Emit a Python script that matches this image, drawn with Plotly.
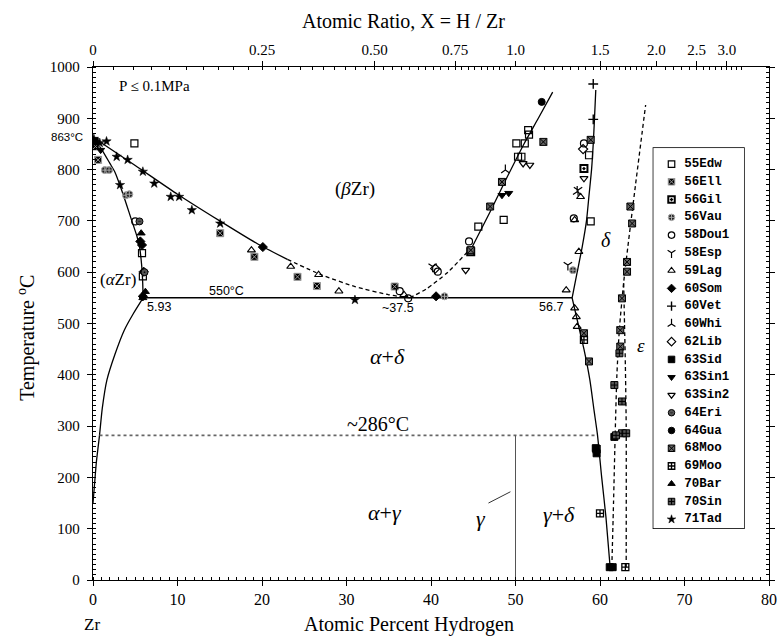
import plotly.graph_objects as go

# ---------------- phase boundary curves (at.% H, deg C) ----------------
alpha_hi_x = [0, 1.0, 2.0, 2.6, 3.5, 4.5, 5.2, 5.5, 5.75, 5.88, 5.93]
alpha_hi_T = [863, 840, 812, 795, 755, 705, 670, 650, 615, 580, 550]

alpha_lo_x = [5.93, 4.8, 3.7, 2.6, 1.65, 1.1, 0.77, 0.4, 0.15, 0.0]
alpha_lo_T = [550, 520, 487, 440, 390, 335, 282, 230, 180, 150]

beta_left_x = [0, 5, 10, 15, 19.5, 23]
beta_left_T = [863, 808, 752, 700, 655, 625]
beta_left_dash_x = [23, 27, 31, 35, 37.5]
beta_left_dash_T = [625, 595, 572, 556, 550]

beta_right_dash_x = [37.5, 39.5, 42, 44.9]
beta_right_dash_T = [550, 568, 600, 650]
beta_right_x = [44.9, 47, 49, 51, 52.7, 54.4]
beta_right_T = [650, 718, 785, 850, 900, 951]

delta_hi_x = [56.7, 57.3, 57.9, 58.4, 58.7, 59.0, 59.2, 59.35, 59.5]
delta_hi_T = [550, 600, 650, 700, 750, 800, 850, 900, 955]

delta_lo_x = [56.7, 57.4, 58.1, 58.8, 59.3, 59.7, 60.2, 60.7, 61.2]
delta_lo_T = [550, 500, 450, 390, 330, 283, 200, 123, 25]

eps_a_x = [61.4, 61.6, 61.8, 62.0, 62.3, 62.8, 63.3, 64.2, 65.4]
eps_a_T = [25, 150, 286, 400, 490, 580, 650, 770, 926]
eps_b_x = [63.1, 63.1, 63.0, 62.9, 62.8]
eps_b_T = [25, 300, 420, 500, 580]

eutectoid_x = [5.93, 56.7]
eutectoid_T = [550, 550]
gamma_iso_x = [0.77, 59.7]
gamma_iso_T = [282, 282]
gamma_line_x = [50, 50]
gamma_line_T = [0, 282]
gamma_leader_x = [46.8, 49.4]
gamma_leader_T = [150, 172]

# ---------------- experimental data ----------------
edw55_x = [4.9, 5.8, 5.9, 45.6, 48.6, 50.3, 50.1, 51.5, 51.6, 51.1, 50.7, 58.7, 58.9]
edw55_T = [851, 637, 592, 689, 702, 825, 851, 877, 868, 851, 825, 828, 699]
ell56_x = [0.6, 15.05, 19.1, 24.2, 26.5, 35.7, 0.3]
ell56_T = [819, 676, 630, 591, 573, 572, 845]
gil56_x = [58.1, 44.7]
gil56_T = [802, 640]
vau56_x = [1.4, 1.9, 3.9, 4.3, 41.6, 56.8]
vau56_T = [799, 799, 750, 752, 553, 604]
dou58_x = [5.0, 36.3, 37.3, 40.8, 44.5, 58.1, 56.9]
dou58_T = [699, 563, 549, 601, 660, 851, 705]
esp58_x = [40.2, 56.2, 57.4]
esp58_T = [611, 614, 760]
lag59_x = [18.75, 23.4, 26.7, 29.1, 57.7, 57.5, 56.0, 57.0, 57.2, 57.3, 57.0, 36.8]
lag59_T = [643, 611, 595, 563, 747, 640, 565, 530, 513, 494, 702, 556]
som60_x = [5.8, 5.6, 5.9, 20.1, 40.6, 6.0]
som60_T = [653, 660, 553, 649, 553, 601]
vet60_x = [59.2, 59.2]
vet60_T = [967, 898]
whi60_x = [48.8, 57.3]
whi60_T = [799, 757]
lib62_x = [58.0, 40.5]
lib62_T = [840, 607]
sid63_x = [0.2, 59.5, 61.7, 61.15, 61.5, 59.6]
sid63_T = [855, 257, 279, 25, 25, 247]
sin1_63_x = [49.2, 48.4, 0.9]
sin1_63_T = [754, 750, 838]
sin2_63_x = [44.1, 51.7, 50.9, 58.1]
sin2_63_T = [604, 809, 812, 783]
eri64_x = [6.1, 5.5]
eri64_T = [600, 699]
gua64_x = [53.1]
gua64_T = [932]
moo68_x = [47.0, 48.4, 53.3, 58.9, 63.6, 63.8, 63.2, 63.2, 62.6, 62.4, 62.4, 58.1, 58.7, 44.7]
moo68_T = [728, 776, 854, 858, 728, 695, 620, 601, 549, 487, 455, 481, 426, 643]
moo69_x = [60.0, 63.0, 59.6, 58.1]
moo69_T = [130, 25, 255, 468]
bar70_x = [6.2, 5.9, 5.7]
bar70_T = [562, 550, 676]
sin70_x = [61.7, 62.6, 62.6, 62.3, 63.1, 61.9]
sin70_T = [380, 348, 286, 442, 286, 282]
tad71_x = [0.1, 0.8, 1.6, 2.8, 3.2, 4.1, 5.9, 7.25, 9.2, 10.2, 11.7, 15.05, 31.0]
tad71_T = [860, 852, 855, 825, 770, 819, 796, 773, 747, 747, 721, 695, 546]

series_names = ["55Edw", "56Ell", "56Gil", "56Vau", "58Dou1", "58Esp", "59Lag",
                "60Som", "60Vet", "60Whi", "62Lib", "63Sid", "63Sin1", "63Sin2",
                "64Eri", "64Gua", "68Moo", "69Moo", "70Bar", "70Sin", "71Tad"]
series_x = [edw55_x, ell56_x, gil56_x, vau56_x, dou58_x, esp58_x, lag59_x, som60_x,
            vet60_x, whi60_x, lib62_x, sid63_x, sin1_63_x, sin2_63_x, eri64_x,
            gua64_x, moo68_x, moo69_x, bar70_x, sin70_x, tad71_x]
series_T = [edw55_T, ell56_T, gil56_T, vau56_T, dou58_T, esp58_T, lag59_T, som60_T,
            vet60_T, whi60_T, lib62_T, sid63_T, sin1_63_T, sin2_63_T, eri64_T,
            gua64_T, moo68_T, moo69_T, bar70_T, sin70_T, tad71_T]

ratio_ticks = [0, 0.25, 0.50, 0.75, 1.0, 1.5, 2.0, 2.5, 3.0]
ratio_labels = ["0", "0.25", "0.50", "0.75", "1.0", "1.5", "2.0", "2.5", "3.0"]

# ---------------- styles ----------------
SERIF = "Liberation Serif"
SANS = "Liberation Sans"
MONO = "Liberation Mono"
styles = {
    "55Edw": dict(symbol="square-open", color="black", line=dict(color="black", width=1.2)),
    "56Ell": dict(symbol="square-x", color="black", line=dict(color="#999", width=1)),
    "56Gil": dict(symbol="square-open-dot", color="black", line=dict(color="black", width=2)),
    "56Vau": dict(symbol="circle-cross", color="#222", line=dict(color="#aaa", width=1)),
    "58Dou1": dict(symbol="circle-open", color="black", line=dict(color="black", width=1.2)),
    "58Esp": dict(symbol="y-down-open", color="black", line=dict(color="black", width=1.2)),
    "59Lag": dict(symbol="triangle-up-open", color="black", line=dict(color="black", width=1.1)),
    "60Som": dict(symbol="diamond", color="black", line=dict(color="black", width=1)),
    "60Vet": dict(symbol="cross-thin-open", color="black", line=dict(color="black", width=1.4)),
    "60Whi": dict(symbol="y-up-open", color="black", line=dict(color="black", width=1.2)),
    "62Lib": dict(symbol="diamond-open", color="black", line=dict(color="black", width=1.2)),
    "63Sid": dict(symbol="square", color="black", line=dict(color="black", width=1)),
    "63Sin1": dict(symbol="triangle-down", color="black", line=dict(color="black", width=1)),
    "63Sin2": dict(symbol="triangle-down-open", color="black", line=dict(color="black", width=1.2)),
    "64Eri": dict(symbol="circle-dot", color="#555", line=dict(color="black", width=1)),
    "64Gua": dict(symbol="circle", color="black", line=dict(color="black", width=1)),
    "68Moo": dict(symbol="square-x", color="#666", line=dict(color="black", width=1)),
    "69Moo": dict(symbol="square-cross-open", color="black", line=dict(color="black", width=1.3)),
    "70Bar": dict(symbol="triangle-up", color="black", line=dict(color="black", width=1)),
    "70Sin": dict(symbol="square-cross", color="#555", line=dict(color="black", width=1)),
    "71Tad": dict(symbol="star", color="black", line=dict(color="black", width=0.5)),
}
MSIZE = 7

fig = go.Figure()

def add_line(x, y, dash="solid", color="black", width=1.3):
    fig.add_trace(go.Scatter(x=x, y=y, mode="lines", showlegend=False, hoverinfo="skip",
                             line=dict(color=color, width=width, dash=dash, shape="spline",
                                       smoothing=0.6)))

add_line(alpha_hi_x, alpha_hi_T)
add_line(alpha_lo_x, alpha_lo_T)
add_line(beta_left_x, beta_left_T)
add_line(beta_left_dash_x, beta_left_dash_T, dash="4px,3px")
add_line(beta_right_dash_x, beta_right_dash_T, dash="4px,3px")
add_line(beta_right_x, beta_right_T)
add_line(delta_hi_x, delta_hi_T)
add_line(delta_lo_x, delta_lo_T)
add_line(eps_a_x, eps_a_T, dash="4px,3px")
add_line(eps_b_x, eps_b_T, dash="4px,3px")
add_line(eutectoid_x, eutectoid_T, width=1.5)
add_line(gamma_iso_x, gamma_iso_T, dash="dot", color="#666", width=1.8)
add_line(gamma_line_x, gamma_line_T, color="#555", width=1)
add_line(gamma_leader_x, gamma_leader_T, color="#333", width=1)

for name, xs, ts in zip(series_names, series_x, series_T):
    st = styles[name]
    fig.add_trace(go.Scatter(x=xs, y=ts, mode="markers", name=name, showlegend=False,
                             marker=dict(symbol=st["symbol"], color=st["color"], size=MSIZE,
                                         line=st["line"])))

# dummy trace for top axis
fig.add_trace(go.Scatter(x=[0, 80], y=[-50, -50], xaxis="x2", mode="markers",
                         marker=dict(opacity=0), showlegend=False, hoverinfo="skip"))

# ---------------- manual legend ----------------
n = len(series_names)
idx = list(range(n))
fig.add_trace(go.Scatter(
    x=[0.2] * n, y=idx, xaxis="x3", yaxis="y3", mode="markers", showlegend=False,
    hoverinfo="skip",
    marker=dict(symbol=[styles[s]["symbol"] for s in series_names],
                color=[styles[s]["color"] for s in series_names],
                size=6.5,
                line=dict(color=[styles[s]["line"]["color"] for s in series_names],
                          width=[styles[s]["line"]["width"] for s in series_names]))))
fig.add_trace(go.Scatter(
    x=[0.34] * n, y=idx, xaxis="x3", yaxis="y3", mode="text", text=series_names,
    textposition="middle right", showlegend=False, hoverinfo="skip",
    textfont=dict(family=MONO, size=12.5, color="black", weight="bold")))

# ---------------- layout ----------------
def pct(r):
    return 100.0 * r / (1.0 + r)

minor_ratio = [i * 0.025 for i in range(1, 40)] + [1.0 + i * 0.05 for i in range(1, 20)] \
    + [2.0 + i * 0.1 for i in range(1, 14)]

axis_common = dict(showline=True, linecolor="black", linewidth=1.3, showgrid=False,
                   zeroline=False, tickcolor="black")

fig.update_layout(
    width=781, height=637,
    margin=dict(l=93, r=4, t=67, b=57),
    paper_bgcolor="white", plot_bgcolor="white",
    showlegend=False,
    xaxis=dict(range=[0, 80], domain=[0, 1], tickvals=list(range(0, 81, 10)),
               ticks="outside", ticklen=5, mirror=True,
               minor=dict(dtick=1, ticklen=3, ticks="inside", tickcolor="black"),
               tickfont=dict(family=SERIF, size=16, color="black"), **axis_common),
    xaxis2=dict(range=[0, 80], overlaying="x", side="top", anchor="y",
                tickmode="array", tickvals=[pct(r) for r in ratio_ticks], ticktext=ratio_labels,
                ticks="outside", ticklen=5,
                minor=dict(tickmode="array", tickvals=[pct(r) for r in minor_ratio],
                           ticklen=3, ticks="inside", tickcolor="black"),
                tickfont=dict(family=SERIF, size=15, color="black"), **axis_common),
    yaxis=dict(range=[0, 1000], domain=[0, 1], tickvals=list(range(0, 1001, 100)),
               ticks="outside", ticklen=5, mirror="ticks", ticklabelstandoff=4,
               minor=dict(dtick=10, ticklen=3, ticks="inside", tickcolor="black"),
               tickfont=dict(family=SERIF, size=15, color="black"), **axis_common),
    xaxis3=dict(domain=[0.829, 0.963], range=[0, 1], visible=False, anchor="y3",
                fixedrange=True),
    yaxis3=dict(domain=[0.101, 0.842], range=[20.5, -0.9], visible=False, anchor="x3",
                fixedrange=True),
    shapes=[dict(type="rect", xref="paper", yref="paper", x0=0.829, x1=0.963,
                 y0=0.101, y1=0.842, line=dict(color="black", width=1.5),
                 fillcolor="white", layer="below")],
)

def ann(text, x, y, size=20, family=SERIF, xref="x", yref="y", xanchor="center",
        yanchor="middle", **kw):
    fig.add_annotation(text=text, x=x, y=y, xref=xref, yref=yref, showarrow=False,
                       xanchor=xanchor, yanchor=yanchor,
                       font=dict(family=family, size=size, color="black"), **kw)

# axis titles
ann("Atomic Ratio, X = H / Zr", 0.459, 1.0897, size=20, xref="paper", yref="paper")
ann("Atomic Percent Hydrogen", 0.468, -0.0877, size=20, xref="paper", yref="paper")
ann("Zr", -0.0015, -0.0877, size=17, xref="paper", yref="paper")
ann("Temperature <sup>o</sup>C", -0.0994, 0.4717, size=20, xref="paper", yref="paper",
    textangle=-90)
ann("863°C", -0.012, 863, size=11.5, family=SANS, xref="paper", xanchor="right")

# region / point labels
ann("P ≤ 0.1MPa", 2.8, 963, size=15, xanchor="left")
ann("(<i>β</i>Zr)", 31.0, 762, size=19)
ann("(<i>α</i>Zr)", 2.9, 585, size=17)
ann("550°C", 15.8, 563, size=12.5, family=SANS)
ann("5.93", 7.8, 533, size=12.5, family=SANS)
ann("~37.5", 36.1, 530, size=12.5, family=SANS)
ann("56.7", 54.2, 533, size=12.5, family=SANS)
ann("<i>δ</i>", 60.7, 663, size=20)
ann("<i>ε</i>", 64.8, 458, size=19)
ann("<i>α</i>+<i>δ</i>", 34.9, 435, size=22)
ann("~286°C", 33.7, 305, size=20)
ann("<i>α</i>+<i>γ</i>", 34.5, 131, size=22)
ann("<i>γ</i>", 45.9, 120, size=22)
ann("<i>γ</i>+<i>δ</i>", 55.2, 127, size=22)

fig.write_html("out.html")
